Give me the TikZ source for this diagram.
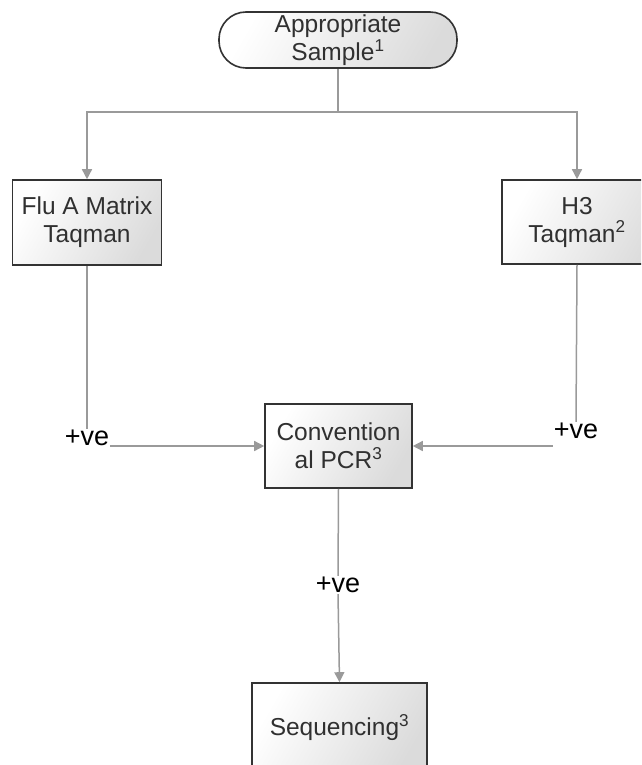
\documentclass[tikz,border=0pt]{standalone}
\usepackage{fontspec}
\setmainfont{Liberation Sans}
\usepackage{tikz}
\usetikzlibrary{arrows.meta}

\definecolor{linegray}{HTML}{9A9A9A}
\definecolor{boxedge}{HTML}{333333}
\definecolor{textgray}{HTML}{303030}

\tikzset{
  stepbox/.style={draw=boxedge, line width=1.6pt, left color=white, right color=black!14,
    shading angle=60, align=center, text=textgray, inner sep=0pt,
    font=\fontsize{24.5}{28}\selectfont},
  poslabel/.style={text=black, inner sep=1pt, font=\fontsize{27}{30}\selectfont},
  conn/.style={draw=linegray, line width=1.5pt,
    -{Triangle[length=10pt,width=10pt,fill=linegray]}},
  plain/.style={draw=linegray, line width=1.5pt}
}

\begin{document}
\begin{tikzpicture}[x=1pt, y=-1pt]
\clip (0,0) rectangle (641,765);

\node[stepbox, rounded corners=27pt, minimum width=238pt, minimum height=56pt] (sample) at (338,40)
  {Appropriate\\Sample\textsuperscript{1}};
\node[stepbox, minimum width=149pt, minimum height=85pt] (flu) at (87,222.5) {Flu A Matrix\\Taqman};
\node[stepbox, minimum width=170pt, minimum height=84pt] (hthree) at (587,222) {\hspace*{-20pt}H3\\\hspace*{-20pt}Taqman\textsuperscript{2}};
\node[stepbox, minimum width=147pt, minimum height=84pt] (pcr) at (338.5,446) {Convention\\al PCR\textsuperscript{3}};
\node[stepbox, minimum width=175pt, minimum height=90pt] (seq) at (339.5,728) {Sequencing\textsuperscript{3}};

\node[poslabel] (posl) at (87,438) {+ve};
\node[poslabel] (posr) at (576,431) {+ve};
\node[poslabel] (posm) at (338,585) {+ve};

\coordinate (split) at (338,112);

% split from the sample
\draw[plain] (sample.south) -- (split);
\draw[conn] (split) -| (flu.north);
\draw[conn] (split) -| ([xshift=-10pt]hthree.north);

% positive results into PCR
\draw[plain] (flu.south) -- (posl.north);
\draw[plain] ([xshift=-10pt]hthree.south) -- (posr.north);
\draw[conn] (posl.east |- pcr.west) -- (pcr.west);
\draw[conn] (posr.west |- pcr.east) -- (pcr.east);

% PCR to sequencing
\draw[plain] (pcr.south) -- (posm.north);
\draw[conn] (posm.south) -- (seq.north);
\end{tikzpicture}
\end{document}
